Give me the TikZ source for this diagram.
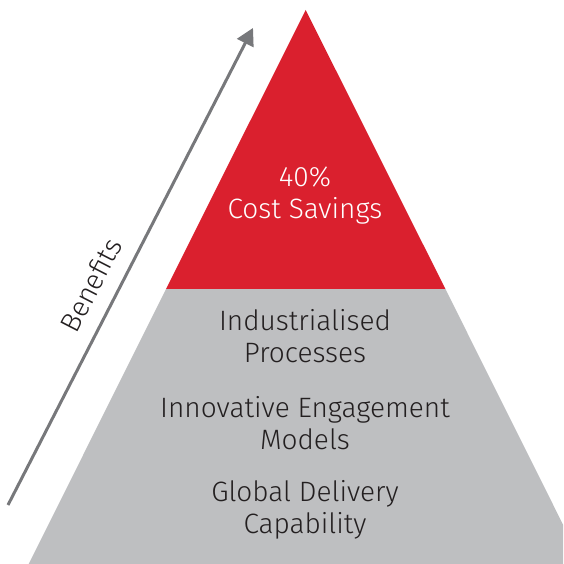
\documentclass[tikz,border=0pt]{standalone}
\usepackage{fontspec}
\setmainfont{Fira Sans Light}
\usetikzlibrary{arrows.meta}
\definecolor{pyrred}{HTML}{DA202E}
\definecolor{pyrgray}{HTML}{BEBFC1}
\definecolor{arrowgray}{HTML}{77787B}
\definecolor{textdark}{HTML}{231F20}
\tikzset{
  tiertext/.style={align=center,font=\fontsize{28}{32}\selectfont,inner sep=0pt},
}
\begin{document}
\begin{tikzpicture}[x=1pt,y=-1pt]
    \useasboundingbox (0,0) rectangle (563,564);
    \clip (0,0) rectangle (563,564);
    % pyramid corners
    \coordinate (top) at (305.7,10);
    \coordinate (midL) at (166,289);
    \coordinate (midR) at (445.4,289);
    \coordinate (botL) at (28.7,564);
    \coordinate (botR) at (582.7,564);
    \fill[pyrred] (top) -- (midR) -- (midL) -- cycle;
    \fill[pyrgray] (midL) -- (midR) -- (botR) -- (botL) -- cycle;
    % benefits arrow
    \coordinate (start) at (8,505);
    \coordinate (tip) at (253,28);
    \draw[arrowgray,line width=3pt,-{Triangle[length=17pt,width=18pt]}] (start) -- (tip);
    \node[rotate=62.8,font=\fontsize{28}{30}\selectfont,textdark,inner sep=0pt] (benefits) at (91,285) {Benefits};
    % tier labels
    \node[tiertext,white] (savings) at (305,196) {40\%\\Cost Savings};
    \node[tiertext,textdark] (processes) at (305,336) {Industrialised\\Processes};
    \node[tiertext,textdark] (models) at (305,423) {Innovative Engagement\\Models};
    \node[tiertext,textdark] (delivery) at (305,510) {Global Delivery\\Capability};
\end{tikzpicture}
\end{document}
